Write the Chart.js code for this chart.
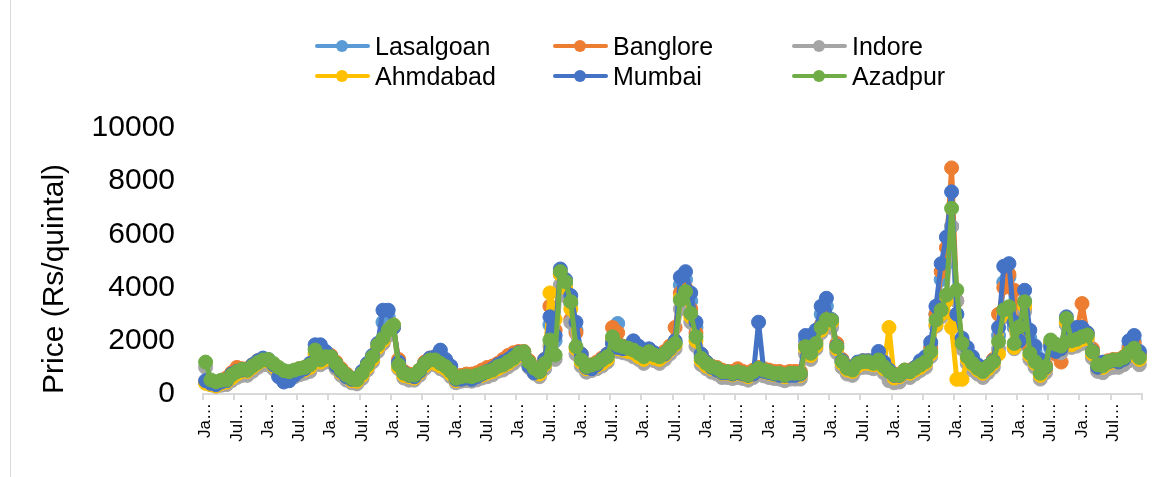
<!DOCTYPE html>
<html>
<head>
<meta charset="utf-8">
<script src="https://cdn.jsdelivr.net/npm/chart.js@4.4.1/dist/chart.umd.min.js"></script>
<style>
body { margin: 0; background: #fff; }
#wrap { position: relative; width: 1165px; height: 477px; overflow: hidden; }
#frame { position: absolute; left: 10px; top: 0; width: 1px; height: 477px; background: #d9d9d9; }
.item { position: absolute; height: 30px; display: flex; align-items: center; font-family: "Liberation Sans", Arial, sans-serif; font-size: 25px; color: #000; white-space: nowrap; }
.mark { position: relative; width: 55px; height: 12px; margin-right: 5px; }
.mark .ln { position: absolute; left: 0; top: 4px; width: 55px; height: 4px; border-radius: 2px; }
.mark .dot { position: absolute; left: 21px; top: 0; width: 12px; height: 12px; border-radius: 50%; }
</style>
</head>
<body>
<div id="wrap">
  <canvas id="chart" width="1165" height="477"></canvas>
  <div id="frame"></div>
  <div id="legend"></div>
</div>
<script>
// months, 15 years of monthly prices (Rs/quintal)
const monthNames = ['Jan', 'Feb', 'Mar', 'Apr', 'May', 'Jun', 'Jul', 'Aug', 'Sep', 'Oct', 'Nov', 'Dec']
const tickLabels = { Jan: 'Ja…', Jul: 'Jul…' }
const yTicks = [0, 2000, 4000, 6000, 8000, 10000]

const lasalgoan = [
  450, 350, 300, 400, 450, 700, 800, 850, 850, 1050, 1200, 1300,
  1250, 1050, 700, 500, 500, 650, 800, 900, 1050, 1700, 1600, 1500,
  1350, 1000, 800, 600, 500, 550, 800, 1100, 1400, 1800, 2700, 2900,
  2600, 1150, 750, 650, 620, 800, 1100, 1300, 1350, 1500, 1200, 950,
  500, 520, 580, 530, 620, 720, 820, 900, 1050, 1150, 1250, 1400,
  1500, 1450, 1000, 780, 800, 1250, 2600, 2000, 4500, 4100, 3400, 2400,
  1400, 950, 950, 1050, 1250, 1450, 2000, 2650, 1650, 1700, 1850, 1700,
  1500, 1650, 1500, 1400, 1450, 1650, 1950, 4100, 4300, 3500, 2500, 1400,
  1100, 950, 850, 750, 750, 700, 750, 700, 650, 700, 850, 800,
  750, 700, 650, 650, 650, 650, 700, 2000, 1900, 2200, 3000, 3300,
  2600, 1700, 1200, 950, 900, 1100, 1200, 1200, 1200, 1450, 1100, 800,
  600, 650, 800, 800, 950, 1150, 1300, 1800, 3000, 4300, 4900, 6300,
  3000, 2000, 1600, 1300, 1000, 900, 1000, 1200, 2200, 4200, 4400, 2500,
  1900, 3500, 2100, 1600, 1100, 950, 1700, 1500, 1600, 2600, 2200, 2300,
  2300, 2200, 1500, 950, 1100, 1150, 1200, 1150, 1250, 1800, 2000, 1500
]
const banglore = [
  450, 400, 400, 500, 600, 800, 1000, 950, 950, 1100, 1250, 1300,
  1250, 1100, 900, 800, 750, 850, 950, 1000, 1100, 1500, 1400, 1450,
  1450, 1200, 950, 750, 600, 550, 800, 1100, 1400, 1700, 1900, 2200,
  2500, 1300, 850, 750, 700, 900, 1200, 1350, 1400, 1300, 1100, 900,
  650, 700, 750, 750, 800, 900, 1000, 1050, 1150, 1300, 1450, 1550,
  1600, 1600, 1250, 1000, 900, 1300, 3300, 2400, 4500, 3700, 2800, 2300,
  1500, 1100, 1100, 1200, 1350, 1500, 2500, 2300, 1800, 1700, 1650, 1550,
  1500, 1650, 1500, 1450, 1600, 1800, 2500, 3800, 4000, 3200, 2300, 1500,
  1200, 1050, 1000, 900, 850, 850, 950, 850, 800, 900, 1000, 950,
  900, 850, 850, 800, 850, 850, 850, 1800, 1700, 2000, 2600, 2900,
  2700, 1900, 1300, 1050, 950, 1150, 1250, 1250, 1200, 1350, 1100, 900,
  750, 750, 900, 900, 1000, 1150, 1300, 1700, 3000, 4600, 5500, 8500,
  3500, 2000, 1500, 1200, 1000, 900, 1050, 1300, 3000, 4000, 4500, 3900,
  2300, 3200, 1700, 1300, 900, 1100, 1900, 1500, 1200, 2700, 2200, 2300,
  3400, 2300, 1700, 1150, 1100, 1250, 1300, 1300, 1400, 1700, 1900, 1500
]
const indore = [
  1000, 350, 300, 330, 350, 500, 620, 700, 700, 850, 1000, 1100,
  1100, 950, 750, 600, 580, 650, 720, 780, 850, 1300, 1100, 1200,
  1200, 950, 700, 520, 420, 380, 580, 900, 1200, 1600, 1900, 2200,
  2500, 950, 600, 520, 520, 700, 950, 1100, 1100, 950, 850, 650,
  420, 480, 500, 480, 530, 600, 650, 720, 850, 900, 1020, 1150,
  1300, 1350, 1000, 780, 650, 950, 1800, 1300, 4100, 3700, 2700, 1500,
  1050, 820, 880, 950, 1050, 1200, 1900, 1600, 1550, 1500, 1400, 1300,
  1150, 1350, 1250, 1150, 1300, 1500, 1700, 3200, 3500, 2700, 1800, 1100,
  950, 820, 750, 620, 620, 580, 620, 580, 520, 620, 750, 680,
  620, 580, 560, 500, 560, 560, 560, 1500, 1300, 1700, 2300, 2600,
  2500, 1550, 1000, 750, 700, 950, 1000, 1000, 950, 1050, 800, 500,
  420, 450, 650, 620, 750, 880, 1000, 1400, 2550, 2900, 3500, 6300,
  3500, 1700, 1150, 900, 750, 620, 800, 1000, 1700, 2900, 3000, 1700,
  2300, 3100, 1300, 1000, 560, 800, 1800, 1650, 1550, 2600, 1750, 1800,
  1900, 2000, 1350, 850, 800, 950, 1000, 1000, 1100, 1250, 1400, 1100
]
const ahmdabad = [
  400, 350, 300, 400, 450, 600, 750, 850, 850, 1000, 1150, 1250,
  1250, 1050, 800, 650, 650, 750, 850, 900, 1000, 1500, 1200, 1300,
  1300, 1050, 800, 650, 500, 480, 700, 1000, 1300, 1750, 2000, 2400,
  2600, 1000, 700, 650, 600, 800, 1050, 1200, 1150, 1050, 950, 750,
  500, 550, 600, 580, 650, 700, 780, 850, 950, 1050, 1150, 1300,
  1450, 1500, 1100, 850, 750, 1100, 3800, 2800, 4500, 4000, 3200, 1700,
  1200, 950, 1000, 1050, 1150, 1300, 2100, 1700, 1650, 1600, 1550, 1400,
  1300, 1500, 1350, 1300, 1450, 1650, 1850, 3600, 3700, 2900, 2000, 1250,
  1050, 950, 900, 780, 780, 720, 780, 720, 650, 750, 900, 830,
  780, 720, 700, 650, 720, 720, 700, 1700, 1450, 1800, 2400, 2700,
  2700, 1700, 1150, 900, 850, 1050, 1150, 1150, 1100, 1200, 950, 2500,
  600, 650, 850, 780, 900, 1000, 1150, 1500, 2600, 3000, 3500, 2500,
  550, 550, 1300, 1100, 900, 780, 950, 1150, 1500, 3000, 3100, 1750,
  2400, 3300, 1450, 1150, 700, 950, 1900, 1750, 1700, 2700, 1850, 1950,
  2050, 2100, 1500, 1000, 1000, 1150, 1200, 1200, 1300, 1450, 1650, 1300
]
const mumbai = [
  500, 400, 350, 450, 500, 750, 850, 900, 900, 1100, 1250, 1350,
  1300, 1100, 650, 450, 500, 700, 850, 950, 1150, 1850, 1850, 1600,
  1400, 1050, 850, 650, 550, 600, 850, 1150, 1450, 1900, 3150, 3150,
  2500, 1200, 800, 700, 650, 850, 1150, 1350, 1400, 1650, 1300, 1050,
  550, 550, 600, 550, 650, 750, 850, 950, 1100, 1200, 1300, 1450,
  1550, 1500, 1050, 800, 850, 1300, 2900, 2200, 4700, 4300, 3700, 2700,
  1500, 1000, 950, 1100, 1300, 1500, 1900, 1750, 1700, 1750, 2000, 1800,
  1600, 1700, 1550, 1450, 1500, 1700, 2000, 4400, 4600, 3800, 2700, 1500,
  1200, 1000, 900, 800, 800, 750, 800, 750, 700, 750, 2700, 850,
  800, 750, 700, 700, 700, 700, 750, 2200, 2200, 2400, 3300, 3600,
  2800, 1800, 1250, 1000, 950, 1200, 1250, 1250, 1250, 1600, 1200, 900,
  700, 700, 850, 850, 1000, 1250, 1400, 1950, 3300, 4900, 5900, 7600,
  3000, 2100, 1750, 1400, 1100, 950, 1050, 1250, 2500, 4800, 4900, 2700,
  2000, 3900, 2400, 1800, 1300, 1000, 1800, 1600, 1700, 2900, 2400, 2500,
  2500, 2300, 1600, 1000, 1200, 1200, 1250, 1200, 1300, 2000, 2200, 1600
]
const azadpur = [
  1200, 530, 460, 520, 530, 710, 840, 930, 900, 1050, 1180, 1280,
  1300, 1150, 1000, 880, 840, 900, 960, 1000, 1090, 1650, 1280, 1400,
  1400, 1150, 900, 710, 590, 530, 780, 1090, 1400, 1840, 2090, 2400,
  2590, 1090, 780, 710, 710, 900, 1150, 1280, 1280, 1150, 1030, 840,
  590, 650, 680, 650, 710, 780, 840, 900, 1030, 1090, 1215, 1340,
  1530, 1590, 1200, 965, 840, 1150, 2030, 1470, 4600, 4220, 3470, 1780,
  1280, 1030, 1090, 1150, 1280, 1400, 2150, 1840, 1780, 1720, 1650, 1530,
  1400, 1590, 1470, 1400, 1530, 1720, 1900, 3530, 3850, 3030, 2150, 1340,
  1150, 1030, 965, 840, 840, 780, 840, 780, 710, 840, 965, 900,
  840, 780, 780, 710, 780, 780, 780, 1780, 1530, 1900, 2500, 2800,
  2780, 1780, 1215, 965, 900, 1150, 1215, 1215, 1150, 1280, 1030, 840,
  714, 714, 900, 840, 965, 1090, 1215, 1590, 2780, 3160, 3720, 6980,
  3910, 1900, 1400, 1150, 965, 840, 1030, 1215, 1970, 3160, 3280, 1900,
  2530, 3470, 1530, 1215, 777, 1030, 2030, 1870, 1800, 2840, 2000, 2060,
  2150, 2220, 1590, 1100, 1060, 1215, 1280, 1280, 1370, 1560, 1720, 1370
]

const seriesNames = ['Lasalgoan', 'Banglore', 'Indore', 'Ahmdabad', 'Mumbai', 'Azadpur']
const seriesColors = ['#5B9BD5', '#ED7D31', '#A5A5A5', '#FFC000', '#4472C4', '#70AD47']
const seriesData = [lasalgoan, banglore, indore, ahmdabad, mumbai, azadpur]

var categories = []
for (let i = 0; i < azadpur.length; i++) {
    categories.push(monthNames[i % 12])
}

// legend drawn as html, 3 columns x 2 rows like the excel one
var legendPos = [[315, 31], [553, 31], [792, 31], [315, 61], [553, 61], [792, 61]]
var legendBox = document.getElementById('legend')
seriesNames.forEach((name, k) => {
    let item = document.createElement('div')
    item.className = 'item'
    item.style.left = legendPos[k][0] + 'px'
    item.style.top = legendPos[k][1] + 'px'
    item.innerHTML = '<span class="mark"><span class="ln" style="background:' + seriesColors[k] + '"></span>' +
        '<span class="dot" style="background:' + seriesColors[k] + '"></span></span>' + name
    legendBox.appendChild(item)
})

Chart.defaults.font.family = '"Liberation Sans", Arial, sans-serif';
Chart.defaults.color = '#000';

let ctx = document.getElementById('chart').getContext('2d');

let chartPrice = new Chart(ctx, {
    type: 'line',
    data: {
        labels: categories,
        datasets: seriesNames.map((name, i) => ({
            label: name,
            data: seriesData[i],
            borderColor: seriesColors[i],
            backgroundColor: seriesColors[i],
            pointBackgroundColor: seriesColors[i],
            pointBorderColor: seriesColors[i],
            borderWidth: 5,
            pointRadius: 7,
            pointBorderWidth: 1,
            borderJoinStyle: 'round',
            borderCapStyle: 'round',
            tension: 0,
            order: seriesNames.length - 1 - i
        }))
    },
    options: {
        responsive: false,
        animation: false,
        layout: {
            padding: { left: 10, right: 23, top: 128, bottom: 0 }
        },
        plugins: {
            legend: { display: false },
            tooltip: { enabled: false }
        },
        scales: {
            x: {
                offset: true,
                grid: {
                    display: true,
                    drawOnChartArea: false,
                    drawTicks: true,
                    tickLength: 6,
                    offset: true,
                    lineWidth: 2,
                    color: c => (c.type !== 'tick' || c.index % 6 === 0) ? '#D9D9D9' : 'rgba(0,0,0,0)'
                },
                border: { display: true, color: '#D9D9D9', width: 2 },
                ticks: {
                    autoSkip: false,
                    minRotation: 90,
                    maxRotation: 90,
                    padding: 3,
                    font: { size: 17 },
                    callback: function(v, i) {
                        return i % 6 === 0 ? tickLabels[categories[i]] : ''
                    }
                },
                afterFit: s => { s.height = 83 }
            },
            y: {
                min: yTicks[0],
                max: yTicks[yTicks.length - 1],
                afterBuildTicks: s => { s.ticks = yTicks.map(v => ({ value: v })) },
                grid: { display: false, drawTicks: false },
                border: { display: false },
                ticks: {
                    padding: 28,
                    font: { size: 30 },
                    callback: v => String(v)
                },
                title: {
                    display: true,
                    text: 'Price (Rs/quintal)',
                    align: 'start',
                    font: { size: 30 },
                    padding: { top: 27, bottom: 0 }
                },
                afterFit: s => { s.width = 193 }
            }
        }
    }
})
</script>
</body>
</html>
